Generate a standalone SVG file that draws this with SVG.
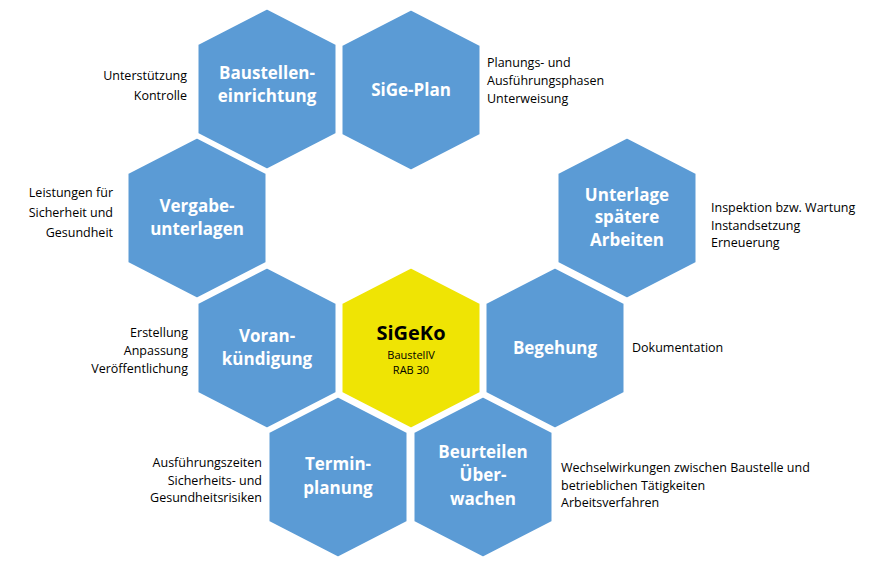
<svg xmlns="http://www.w3.org/2000/svg" width="888" height="573" viewBox="0 0 888 573">
<defs>
<style>
.h{fill:#5B9BD5;stroke:#fff;stroke-width:3}
.y{fill:#EFE404;stroke:#fff;stroke-width:3}
.t{font-family:"Open Sans","Liberation Sans",sans-serif;font-weight:bold;font-size:17px;fill:#fff;text-anchor:middle}
.s{font-family:"Open Sans","Liberation Sans",sans-serif;font-size:12.5px;fill:#000}
.r{text-anchor:end}
</style>
<polygon id="hex" points="0,-81 70,-45 70,45 0,81 -70,45 -70,-45"/>
</defs>
<g id="connectors"></g>
<g id="baustelle" transform="translate(267,89)"><use href="#hex" class="h"/><text class="t" y="-10">Baustellen-</text><text class="t" y="13">einrichtung</text></g>
<g id="sigeplan" transform="translate(411,90)"><use href="#hex" class="h"/><text class="t" y="6">SiGe-Plan</text></g>
<g id="vergabe" transform="translate(197,218)"><use href="#hex" class="h"/><text class="t" y="-6">Vergabe-</text><text class="t" y="17">unterlagen</text></g>
<g id="unterlage" transform="translate(627,218)"><use href="#hex" class="h"/><text class="t" y="-17">Unterlage</text><text class="t" y="5">spätere</text><text class="t" y="28">Arbeiten</text></g>
<g id="vorank" transform="translate(267,348)"><use href="#hex" class="h"/><text class="t" y="-6">Voran-</text><text class="t" y="17">kündigung</text></g>
<g id="sigeko" transform="translate(411,348)"><use href="#hex" class="y"/><text class="t" style="fill:#000;font-size:20px" y="-8">SiGeKo</text><text class="s" style="text-anchor:middle;font-size:11px" y="11">BaustellV</text><text class="s" style="text-anchor:middle;font-size:11px" y="26">RAB 30</text></g>
<g id="begehung" transform="translate(555,348)"><use href="#hex" class="h"/><text class="t" y="6">Begehung</text></g>
<g id="termin" transform="translate(338,477)"><use href="#hex" class="h"/><text class="t" y="-7">Termin-</text><text class="t" y="17">planung</text></g>
<g id="beurteilen" transform="translate(483,477)"><use href="#hex" class="h"/><text class="t" y="-19">Beurteilen</text><text class="t" y="4">Über-</text><text class="t" y="28">wachen</text></g>
<g id="labels">
<text class="s r" x="187" y="80">Unterstützung</text><text class="s r" x="187" y="100">Kontrolle</text>
<text class="s" x="487" y="67">Planungs- und</text><text class="s" x="487" y="85">Ausführungsphasen</text><text class="s" x="487" y="103">Unterweisung</text>
<text class="s r" x="113" y="197">Leistungen für</text><text class="s r" x="113" y="217">Sicherheit und</text><text class="s r" x="113" y="237">Gesundheit</text>
<text class="s" x="711" y="212">Inspektion bzw. Wartung</text><text class="s" x="711" y="230">Instandsetzung</text><text class="s" x="711" y="247">Erneuerung</text>
<text class="s r" x="188" y="337">Erstellung</text><text class="s r" x="188" y="355">Anpassung</text><text class="s r" x="188" y="373">Veröffentlichung</text>
<text class="s" x="632" y="352">Dokumentation</text>
<text class="s r" x="262" y="467">Ausführungszeiten</text><text class="s r" x="262" y="485">Sicherheits- und</text><text class="s r" x="262" y="502">Gesundheitsrisiken</text>
<text class="s" x="561" y="472">Wechselwirkungen  zwischen Baustelle und</text><text class="s" x="561" y="490">betrieblichen Tätigkeiten</text><text class="s" x="561" y="507">Arbeitsverfahren</text>
</g>
</svg>
